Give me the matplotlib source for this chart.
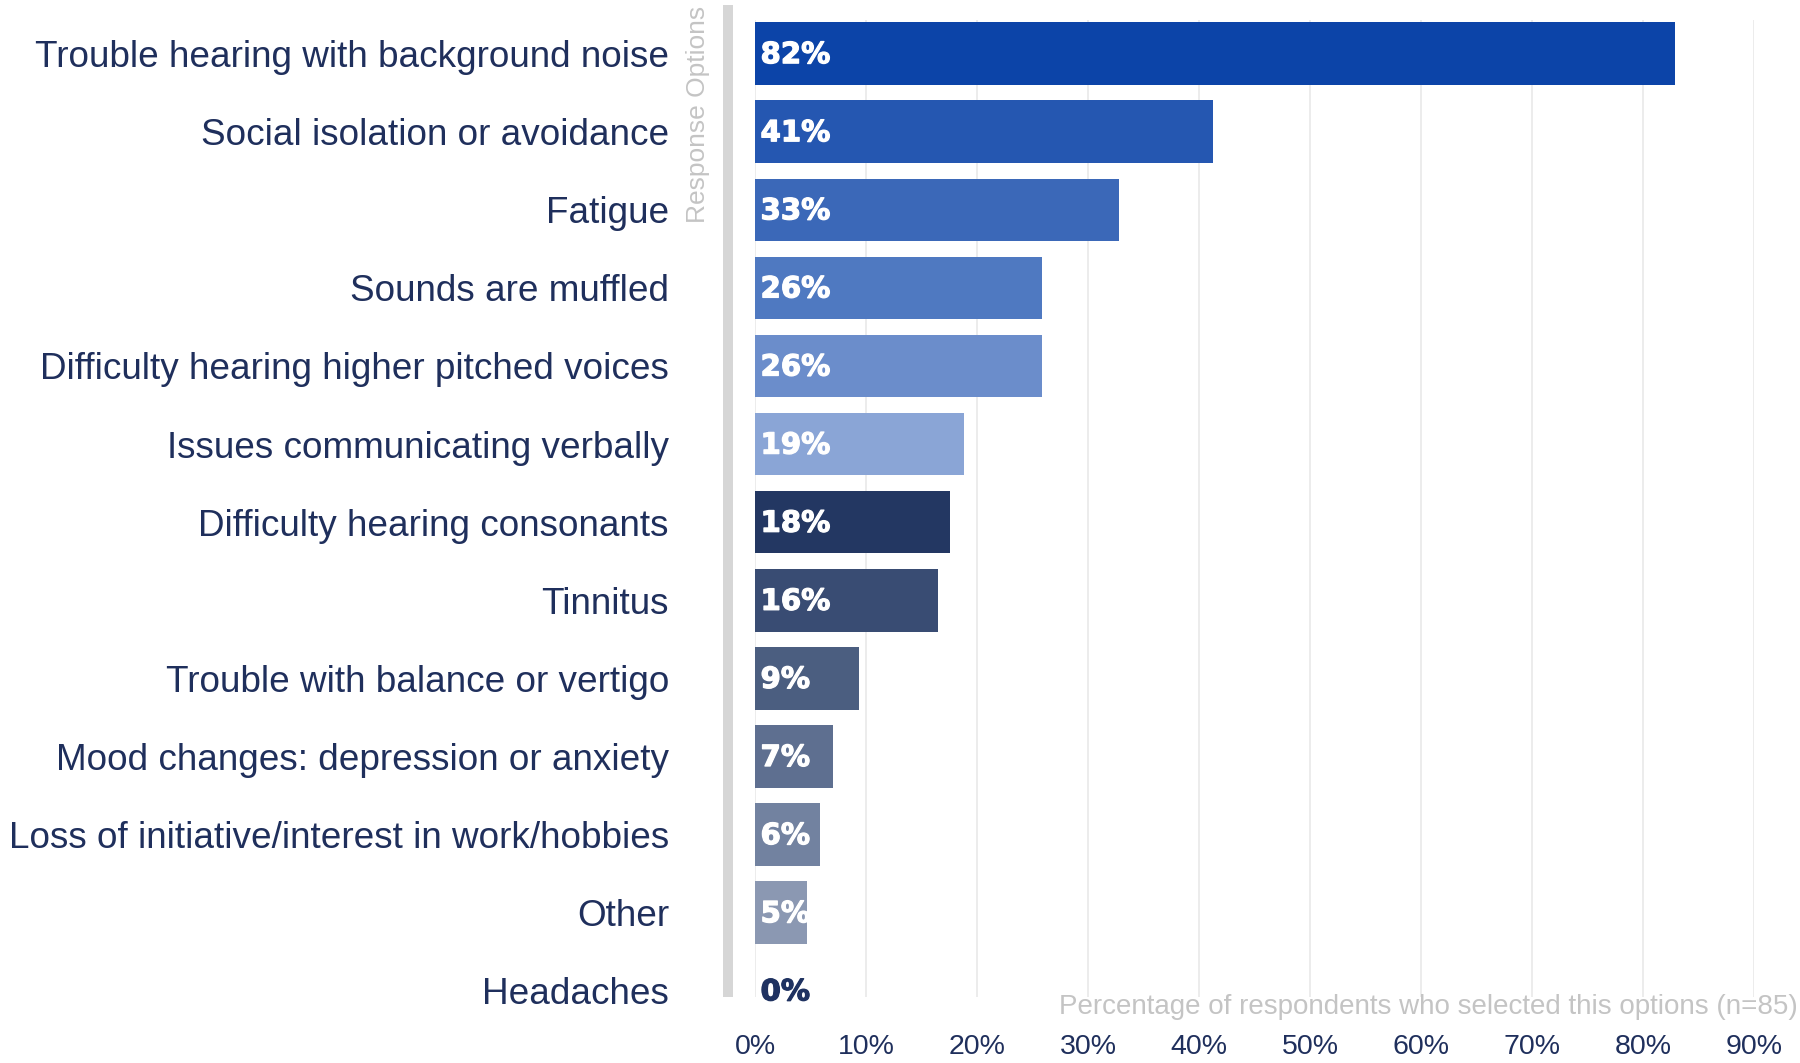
import matplotlib
matplotlib.use("Agg")
import matplotlib.pyplot as plt
from matplotlib.patches import Rectangle
import matplotlib.patheffects as pe

categories = [
    "Trouble hearing with background noise",
    "Social isolation or avoidance",
    "Fatigue",
    "Sounds are muffled",
    "Difficulty hearing higher pitched voices",
    "Issues communicating verbally",
    "Difficulty hearing consonants",
    "Tinnitus",
    "Trouble with balance or vertigo",
    "Mood changes: depression or anxiety",
    "Loss of initiative/interest in work/hobbies",
    "Other",
    "Headaches",
]
values = [82.9, 41.3, 32.8, 25.9, 25.9, 18.8, 17.6, 16.5, 9.4, 7.0, 5.9, 4.7, 0.0]
value_labels = ["82%", "41%", "33%", "26%", "26%", "19%", "18%", "16%", "9%", "7%", "6%", "5%", "0%"]
bar_colors = ["#0c44a8", "#2557b1", "#3b68b8", "#4f79c1", "#6b8dcb", "#8aa5d6",
              "#233762", "#394c73", "#4b5e80", "#5e6f90", "#7282a0", "#8b98b2", "#8b98b2"]
xticks = [0, 10, 20, 30, 40, 50, 60, 70, 80, 90]
xtick_labels = ["0%", "10%", "20%", "30%", "40%", "50%", "60%", "70%", "80%", "90%"]

NAVY = "#1f2f5c"
GRAY = "#c4c4c4"

plt.rcParams['font.family'] = ['Liberation Sans', 'DejaVu Sans']

W, H = 1800, 1063
fig = plt.figure(figsize=(W / 100, H / 100), dpi=100)
ax_left, ax_right, ax_top, ax_bottom = 755, 1754, 20, 997
ax = fig.add_axes([ax_left / W, 1 - ax_bottom / H, (ax_right - ax_left) / W, (ax_bottom - ax_top) / H])

ypos = list(range(len(categories)))
ax.barh(ypos, values, height=0.8, color=bar_colors, zorder=2)

for y, v, lab in zip(ypos, values, value_labels):
    col = "white" if v > 0 else "#1f3261"
    ax.text(0.5, y + 0.02, lab, ha="left", va="center", color=col, fontsize=21,
            fontweight="bold", family="DejaVu Sans", zorder=3,
            path_effects=[pe.withStroke(linewidth=0.9, foreground=col)])

ax.set_xlim(0, 90)
ax.set_ylim(12.08, -0.43)
ax.set_xticks(xticks)
ax.set_xticklabels(xtick_labels)
ax.set_yticks(ypos)
ax.set_yticklabels(categories)
ax.tick_params(axis="x", length=0, pad=27, labelsize=20.5, labelcolor=NAVY)
ax.tick_params(axis="y", length=0, pad=62, labelsize=26.6, labelcolor=NAVY)

ax.grid(axis="x", color="#ebebeb", linewidth=1.3, zorder=0)
ax.set_axisbelow(True)
for s in ax.spines.values():
    s.set_visible(False)

ax.set_xlabel("Percentage of respondents who selected this options (n=85)",
              fontsize=20, color=GRAY)
ax.xaxis.set_label_coords((1798 - ax_left) / (ax_right - ax_left),
                          (ax_bottom - 1007) / (ax_bottom - ax_top))
ax.xaxis.label.set_ha("right")
ax.xaxis.label.set_va("center")

ax.set_ylabel("Response Options", fontsize=19, color=GRAY)
ax.yaxis.set_label_coords((698 - ax_left) / (ax_right - ax_left),
                          (ax_bottom - 6) / (ax_bottom - ax_top))
ax.yaxis.label.set_ha("right")
ax.yaxis.label.set_va("center")

fig.add_artist(Rectangle((723 / W, 1 - 997 / H), 10 / W, (997 - 5) / H,
                         transform=fig.transFigure, facecolor="#d6d6d6",
                         edgecolor="none"))

fig.savefig("out.png", dpi=100, facecolor="white")
